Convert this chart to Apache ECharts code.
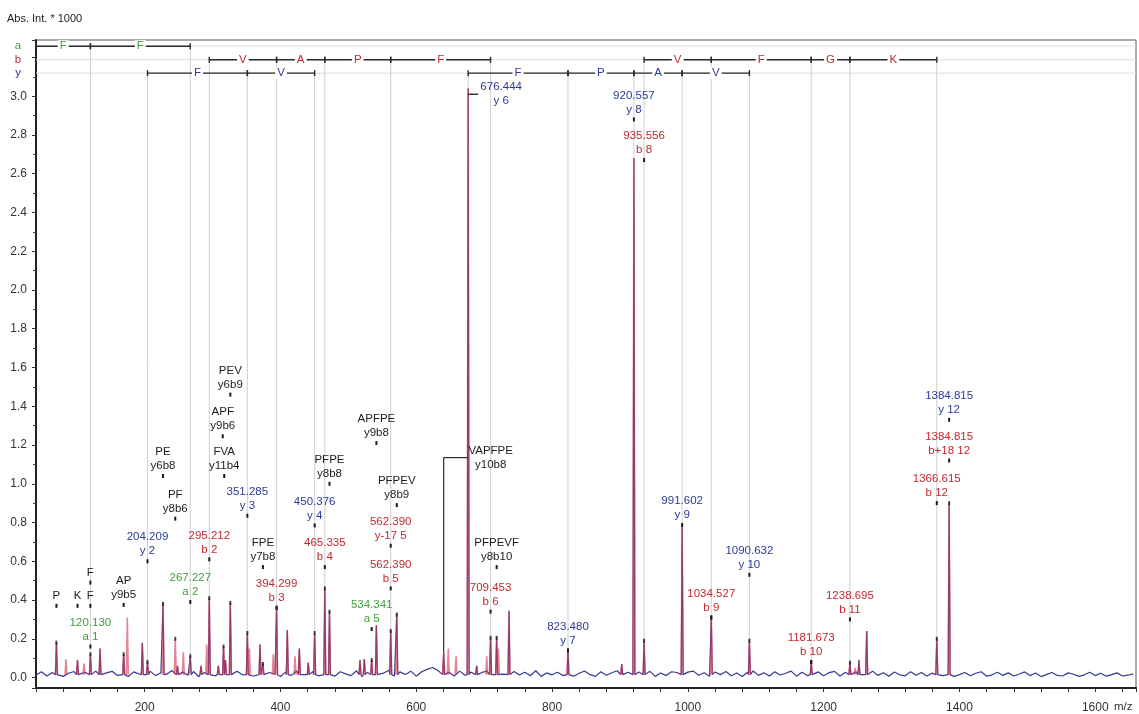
<!DOCTYPE html>
<html>
<head>
<meta charset="utf-8">
<script src="https://cdn.jsdelivr.net/npm/echarts@6/dist/echarts.min.js"></script>
<style>
  html, body { margin: 0; padding: 0; background: #fff; }
  #chart { width: 1139px; height: 714px; }
</style>
</head>
<body>
<div id="chart"></div>
<script>
// ---- axis ranges ----
const mzMin = 40, mzMax = 1660;
const intMin = -0.054, intMax = 3.29;
const xTickLabels = [200, 400, 600, 800, 1000, 1200, 1400, 1600];
const yTickLabels = ['0.0', '0.2', '0.4', '0.6', '0.8', '1.0', '1.2', '1.4', '1.6', '1.8',
                     '2.0', '2.2', '2.4', '2.6', '2.8', '3.0'];

// ---- baseline noise (thousandths of Abs. Int. * 1000), one value every noiseStep m/z ----
const noiseStart = 40, noiseStep = 8;
const noise = [
  12,30,8,26,34,6,22,31,10,27,15,33,7,24,32,11,28,5,29,18,9,
  33,10,25,16,36,7,28,12,31,4,26,35,9,21,30,6,33,14,27,8,37,12,26,17,5,
  29,11,34,6,24,31,9,36,15,7,30,19,10,35,4,27,32,12,23,38,8,29,16,33,7,
  30,42,52,36,14,27,8,33,12,29,5,25,34,10,28,18,6,31,13,27,9,35,6,24,14,
  27,10,32,7,22,34,15,6,30,12,25,35,8,27,11,29,14,32,6,23,10,30,26,8,28,
  33,12,25,6,29,15,31,9,23,5,27,34,11,25,8,30,13,22,33,7,27,10,16,29,9,
  25,32,8,27,13,30,5,22,33,11,25,7,29,14,9,30,12,26,8,23,31,10,25,6,15,
  26,9,22,30,7,14,27,11,24,8,18,29,10,23,5,15,26,11,8,24,17,6,14,27,10,22,7,15,24,8,12,19
];
const peakFoot = 0.015;

// ---- peaks: [m/z, intensity, trace ('b' = both traces, 'r' = red trace only), picked] ----
const peaks = [
  [70.07, 0.18, 'b', 1], [84.2, 0.094, 'r', 0], [101.1, 0.09, 'b', 0], [110.7, 0.072, 'r', 0],
  [120.13, 0.12, 'b', 1], [134.3, 0.15, 'b', 0], [169.1, 0.12, 'b', 1], [174.5, 0.31, 'r', 0],
  [196.6, 0.18, 'b', 0], [204.209, 0.08, 'b', 1], [227.1, 0.38, 'b', 1], [245.1, 0.20, 'r', 1],
  [248.3, 0.06, 'b', 0], [257.0, 0.13, 'r', 0], [267.227, 0.11, 'b', 1], [283.0, 0.06, 'b', 0],
  [291.4, 0.17, 'r', 0], [295.212, 0.41, 'b', 1], [308.5, 0.06, 'b', 0], [316.2, 0.16, 'b', 1],
  [319.0, 0.09, 'b', 0], [326.2, 0.385, 'b', 1], [351.285, 0.23, 'b', 1], [354.3, 0.15, 'r', 0],
  [369.9, 0.17, 'b', 0], [374.2, 0.07, 'b', 1], [389.5, 0.12, 'r', 0], [394.299, 0.36, 'b', 1],
  [410.1, 0.245, 'b', 0], [421.5, 0.11, 'r', 0], [427.8, 0.15, 'b', 0], [441.0, 0.077, 'b', 0],
  [450.376, 0.23, 'b', 1], [465.335, 0.46, 'b', 1], [472.2, 0.34, 'b', 1], [517.2, 0.09, 'b', 0],
  [523.5, 0.095, 'b', 0], [534.341, 0.09, 'b', 1], [541.3, 0.27, 'b', 0], [562.39, 0.24, 'b', 1],
  [571.3, 0.325, 'b', 1], [640.4, 0.13, 'b', 0], [647.2, 0.15, 'r', 0], [658.6, 0.11, 'r', 0],
  [676.444, 3.04, 'b', 0], [689.0, 0.06, 'b', 0], [703.8, 0.11, 'r', 0], [709.453, 0.205, 'b', 1],
  [718.4, 0.205, 'b', 1], [721.0, 0.15, 'r', 0], [736.6, 0.345, 'b', 0], [823.48, 0.14, 'b', 1],
  [902.6, 0.07, 'b', 0], [920.557, 2.68, 'b', 0], [935.556, 0.19, 'b', 1], [991.602, 0.787, 'b', 0],
  [1034.527, 0.31, 'b', 1], [1090.632, 0.19, 'b', 1], [1181.673, 0.08, 'b', 1], [1238.695, 0.077, 'b', 1],
  [1246.2, 0.05, 'r', 0], [1252.0, 0.09, 'b', 0], [1263.4, 0.24, 'b', 0], [1366.615, 0.20, 'b', 1],
  [1384.815, 0.90, 'b', 1]
];

// ---- sequence ladders: [from m/z, to m/z, residue] ----
const ladderA = [[40, 120.130, 'F'], [120.130, 267.227, 'F']];
const ladderB = [
  [295.212, 394.299, 'V'], [394.299, 465.335, 'A'], [465.335, 562.390, 'P'], [562.390, 709.453, 'F'],
  [935.556, 1034.527, 'V'], [1034.527, 1181.673, 'F'], [1181.673, 1238.695, 'G'], [1238.695, 1366.615, 'K']
];
const ladderY = [
  [204.209, 351.285, 'F'], [351.285, 450.376, 'V'],
  [676.444, 823.480, 'F'], [823.480, 920.557, 'P'], [920.557, 991.602, 'A'], [991.602, 1090.632, 'V']
];

// ---- ion annotations: [m/z, label height, value, ion, ion type, leader] ----
const ionLabels = [
  [120.130, 0.16, '120.130', 'a 1', 'a'],
  [267.227, 0.39, '267.227', 'a 2', 'a'],
  [534.341, 0.25, '534.341', 'a 5', 'a'],
  [295.212, 0.61, '295.212', 'b 2', 'b'],
  [394.299, 0.36, '394.299', 'b 3', 'b'],
  [465.335, 0.57, '465.335', 'b 4', 'b'],
  [562.390, 0.46, '562.390', 'b 5', 'b'],
  [562.390, 0.68, '562.390', 'y-17 5', 'b'],
  [709.453, 0.34, '709.453', 'b 6', 'b'],
  [935.556, 2.67, '935.556', 'b 8', 'b'],
  [1034.527, 0.31, '1034.527', 'b 9', 'b'],
  [1181.673, 0.08, '1181.673', 'b 10', 'b'],
  [1238.695, 0.30, '1238.695', 'b 11', 'b'],
  [1366.615, 0.90, '1366.615', 'b 12', 'b'],
  [1384.815, 1.12, '1384.815', 'b+18 12', 'b'],
  [204.209, 0.60, '204.209', 'y 2', 'y'],
  [351.285, 0.835, '351.285', 'y 3', 'y'],
  [450.376, 0.785, '450.376', 'y 4', 'y'],
  [676.444, 3.01, '676.444', 'y 6', 'y', 'right'],
  [823.480, 0.14, '823.480', 'y 7', 'y'],
  [920.557, 2.88, '920.557', 'y 8', 'y'],
  [991.602, 0.787, '991.602', 'y 9', 'y'],
  [1090.632, 0.53, '1090.632', 'y 10', 'y'],
  [1384.815, 1.33, '1384.815', 'y 12', 'y']
];

// ---- internal fragment annotations: [m/z, label height, sequence, fragment, leader] ----
const internalLabels = [
  [70.07, 0.37, 'P', ''],
  [101.1, 0.37, 'K', ''],
  [120.08, 0.37, 'F', ''],
  [120.08, 0.49, 'F', ''],
  [169.1, 0.375, 'AP', 'y9b5'],
  [227.1, 1.04, 'PE', 'y6b8'],
  [245.1, 0.82, 'PF', 'y8b6'],
  [315.0, 1.245, 'APF', 'y9b6'],
  [317.2, 1.04, 'FVA', 'y11b4'],
  [326.2, 1.46, 'PEV', 'y6b9'],
  [374.2, 0.57, 'FPE', 'y7b8'],
  [472.2, 1.0, 'PFPE', 'y8b8'],
  [541.3, 1.21, 'APFPE', 'y9b8'],
  [571.3, 0.89, 'PFPEV', 'y8b9'],
  [640.4, 1.135, 'VAPFPE', 'y10b8', 'bracket'],
  [718.4, 0.57, 'PFPEVF', 'y8b10']
];

// ---- layout and styling ----
const rowLevels = { a: 3.258, b: 3.188, y: 3.119 };
const typeColors = { a: '#3f9f3f', b: '#c3282f', y: '#2b3a9c', i: '#1c1c1c' };
const FONT = '11.5px "Liberation Sans", Arial, sans-serif';
const INK = '#2a2a2a';

function peakHeightAt(mz) {
  let best = null;
  peaks.forEach(p => {
    if (Math.abs(p[0] - mz) < 3 && (!best || Math.abs(p[0] - mz) < Math.abs(best[0] - mz))) best = p;
  });
  return best ? best[1] : null;
}

// blue trace: baseline noise with the shared peaks laid over it
function buildBlueTrace(list) {
  const pts = [];
  noise.forEach((v, i) => {
    const mz = noiseStart + i * noiseStep;
    if (!list.some(p => Math.abs(p[0] - mz) < 2)) pts.push([mz, v / 1000]);
  });
  list.forEach(p => {
    pts.push([p[0] - 1.4, peakFoot], [p[0], p[1]], [p[0] + 1.4, peakFoot]);
  });
  pts.sort((a, b) => a[0] - b[0]);
  return pts;
}
// red trace: the peaks only, each one a separate stroke
function buildRedTrace(list) {
  const pts = [];
  list.slice().sort((a, b) => a[0] - b[0]).forEach(p => {
    pts.push([p[0] - 1.4, peakFoot], [p[0], p[1]], [p[0] + 1.4, peakFoot], [p[0] + 1.5, '-']);
  });
  return pts;
}
const redTrace = buildRedTrace(peaks);
const blueTrace = buildBlueTrace(peaks.filter(p => p[2] === 'b'));
const pickedTops = peaks.filter(p => p[3]).map(p => [p[0], p[1]]);

// ladder segments and the guide lines from each ladder step down to its peak
const ladderSegs = [];
const guides = [];
[['a', ladderA], ['b', ladderB], ['y', ladderY]].forEach(([key, segs]) => {
  const seen = new Set();
  segs.forEach(s => {
    ladderSegs.push({ from: s[0], to: s[1], res: s[2], row: key });
    [s[0], s[1]].forEach(mz => {
      if (mz <= mzMin || seen.has(mz)) return;
      seen.add(mz);
      const h = peakHeightAt(mz);
      if (h !== null) guides.push({ mz, top: rowLevels[key], bottom: h });
    });
  });
});

const annotations = ionLabels.map(l => ({ mz: l[0], level: l[1], v: l[2], n: l[3], type: l[4], mode: l[5] }))
  .concat(internalLabels.map(l => ({ mz: l[0], level: l[1], v: l[2], n: l[3], type: 'i', mode: l[4] })));

function ladderItem(params, api) {
  const s = ladderSegs[params.dataIndex];
  const lv = rowLevels[s.row];
  const p1 = api.coord([s.from, lv]);
  const p2 = api.coord([s.to, lv]);
  const y = p1[1];
  const ls = { stroke: INK, lineWidth: 1.4 };
  return {
    type: 'group',
    children: [
      { type: 'line', shape: { x1: p1[0], y1: y, x2: p2[0], y2: y }, style: ls },
      { type: 'line', shape: { x1: p1[0], y1: y - 3, x2: p1[0], y2: y + 3 }, style: ls },
      { type: 'line', shape: { x1: p2[0], y1: y - 3, x2: p2[0], y2: y + 3 }, style: ls },
      { type: 'text', style: { text: s.res, x: (p1[0] + p2[0]) / 2, y: y, align: 'center', verticalAlign: 'middle',
        font: FONT, fill: typeColors[s.row], backgroundColor: '#fff', padding: [0, 2] } }
    ]
  };
}

const rowKeys = ['a', 'b', 'y'];
function rowItem(params, api) {
  const key = rowKeys[params.dataIndex];
  const cs = params.coordSys;
  const y = api.coord([mzMin, rowLevels[key]])[1];
  return {
    type: 'group',
    children: [
      { type: 'line', shape: { x1: cs.x, y1: y, x2: cs.x + cs.width, y2: y }, style: { stroke: '#dcdcdc', lineWidth: 1 } },
      { type: 'text', style: { text: key, x: cs.x - 18, y: y, align: 'center', verticalAlign: 'middle',
        font: FONT, fill: typeColors[key] } }
    ]
  };
}

function guideItem(params, api) {
  const g = guides[params.dataIndex];
  const p1 = api.coord([g.mz, g.top]);
  const p2 = api.coord([g.mz, g.bottom]);
  return { type: 'line', shape: { x1: p1[0], y1: p1[1], x2: p2[0], y2: p2[1] },
           style: { stroke: '#d0d0d0', lineWidth: 1 } };
}

function labelItem(params, api) {
  const a = annotations[params.dataIndex];
  const p = api.coord([a.mz, a.level]);
  const fill = typeColors[a.type];
  const text = a.n ? a.v + '\n' + a.n : a.v;
  if (a.mode === 'right') {
    return {
      type: 'group',
      children: [
        { type: 'line', shape: { x1: p[0], y1: p[1], x2: p[0] + 10, y2: p[1] }, style: { stroke: INK, lineWidth: 1.4 } },
        { type: 'text', style: { text, x: p[0] + 33, y: p[1], align: 'center', verticalAlign: 'middle',
          font: FONT, fill, lineHeight: 14 } }
      ]
    };
  }
  if (a.mode === 'bracket') {
    const base = api.coord([a.mz, peakHeightAt(a.mz)]);
    return {
      type: 'group',
      children: [
        { type: 'line', shape: { x1: p[0], y1: base[1], x2: p[0], y2: p[1] }, style: { stroke: INK, lineWidth: 1.2 } },
        { type: 'line', shape: { x1: p[0], y1: p[1], x2: p[0] + 24, y2: p[1] }, style: { stroke: INK, lineWidth: 1.2 } },
        { type: 'text', style: { text, x: p[0] + 47, y: p[1], align: 'center', verticalAlign: 'middle',
          font: FONT, fill, lineHeight: 14 } }
      ]
    };
  }
  return {
    type: 'group',
    children: [
      { type: 'rect', shape: { x: p[0] - 1, y: p[1] - 2, width: 2, height: 4 }, style: { fill: '#1a1a1a' } },
      { type: 'text', style: { text, x: p[0], y: p[1] - 3, align: 'center', verticalAlign: 'bottom',
        font: FONT, fill, lineHeight: 14 } }
    ]
  };
}

const chart = echarts.init(document.getElementById('chart'), null, { renderer: 'canvas' });
chart.setOption({
  animation: false,
  backgroundColor: '#fff',
  grid: { left: 36, right: 3, top: 40, bottom: 25.5, show: true, borderColor: '#555', borderWidth: 1 },
  xAxis: {
    type: 'value', min: mzMin, max: mzMax, interval: 40,
    axisLine: { onZero: false, lineStyle: { color: '#222', width: 2 } },
    axisTick: { length: 4, lineStyle: { color: '#333' } },
    axisLabel: {
      margin: 14, color: '#333', fontSize: 12, fontFamily: '"Liberation Sans", Arial, sans-serif',
      formatter: v => (xTickLabels.indexOf(Math.round(v)) >= 0 && Math.abs(v - Math.round(v)) < 1e-6) ? String(Math.round(v)) : ''
    },
    splitLine: { show: false }
  },
  yAxis: {
    type: 'value', min: intMin, max: intMax, minInterval: 0.2, maxInterval: 0.2,
    axisLine: { show: true, lineStyle: { color: '#222', width: 2 } },
    axisTick: { show: true, length: 4, lineStyle: { color: '#333' } },
    minorTick: { show: true, splitNumber: 2, length: 3, lineStyle: { color: '#444' } },
    axisLabel: {
      margin: 9, color: '#333', fontSize: 12, fontFamily: '"Liberation Sans", Arial, sans-serif',
      formatter: v => {
        const s = (Math.abs(v) < 1e-9 ? 0 : v).toFixed(1);
        return (Math.abs(v * 5 - Math.round(v * 5)) < 1e-6 && yTickLabels.indexOf(s) >= 0) ? s : '';
      }
    },
    splitLine: { show: false },
    minorSplitLine: { show: false }
  },
  graphic: [
    { type: 'text', left: 7, top: 13, style: { text: 'Abs. Int. * 1000', font: '11px "Liberation Sans", Arial, sans-serif', fill: '#222' } },
    { type: 'text', left: 1114, top: 701, style: { text: 'm/z', font: '11.5px "Liberation Sans", Arial, sans-serif', fill: '#333' } }
  ],
  series: [
    { type: 'custom', name: 'rows', coordinateSystem: 'cartesian2d', renderItem: rowItem, silent: true, z: 1,
      data: rowKeys.map(k => [mzMin, rowLevels[k]]) },
    { type: 'custom', name: 'guides', coordinateSystem: 'cartesian2d', renderItem: guideItem, silent: true, z: 1,
      data: guides.map(g => [g.mz, g.top, g.bottom]), encode: { x: 0, y: [1, 2] } },
    { type: 'line', name: 'blue trace', data: blueTrace, showSymbol: false, silent: true, z: 2,
      lineStyle: { color: '#373a8e', width: 1.2 } },
    { type: 'line', name: 'red trace', data: redTrace, showSymbol: false, silent: true, z: 3, connectNulls: false,
      lineStyle: { color: '#d23a52', width: 1.6, opacity: 0.62 } },
    { type: 'scatter', name: 'picked', data: pickedTops, symbol: 'rect', symbolSize: [2, 4], silent: true, z: 4,
      itemStyle: { color: '#1a1a1a' } },
    { type: 'custom', name: 'ladder', coordinateSystem: 'cartesian2d', renderItem: ladderItem, silent: true, z: 5,
      data: ladderSegs.map(s => [s.from, rowLevels[s.row], s.to]), encode: { x: [0, 2], y: 1 } },
    { type: 'custom', name: 'labels', coordinateSystem: 'cartesian2d', renderItem: labelItem, silent: true, z: 6,
      data: annotations.map(a => [a.mz, a.level]), encode: { x: 0, y: 1 } }
  ]
});
</script>
</body>
</html>
